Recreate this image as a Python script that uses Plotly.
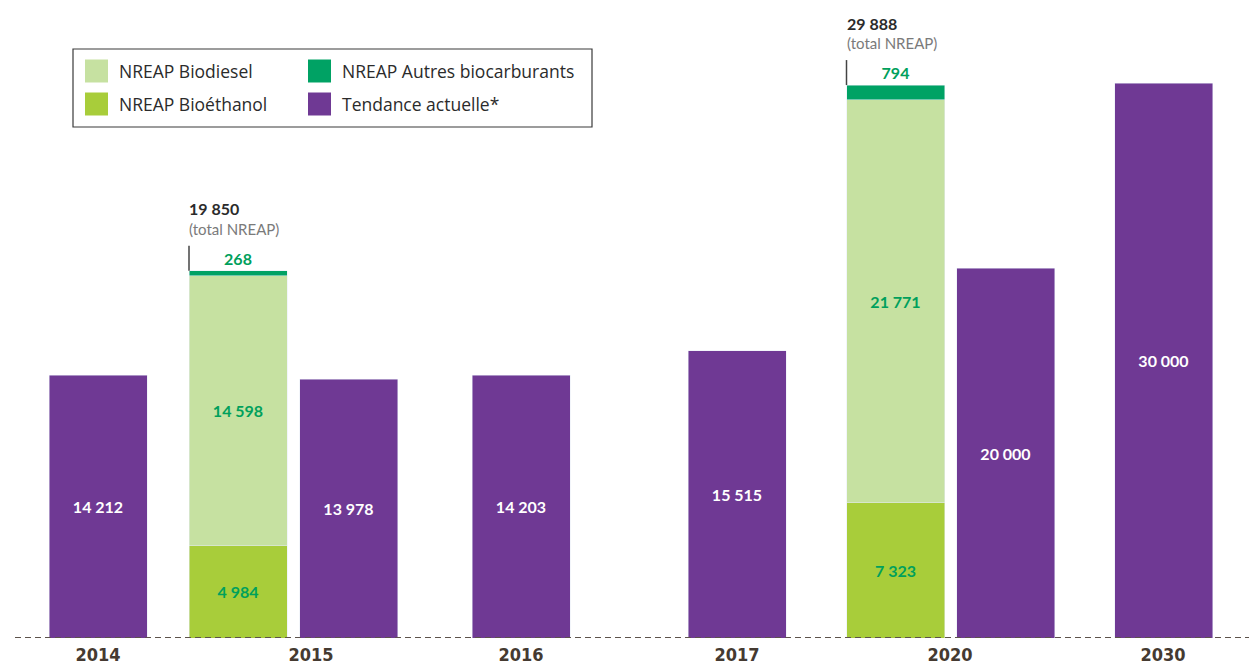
import plotly.graph_objects as go

# ---- data ----
purple_years = ["2014", "2015", "2016", "2017", "2020", "2030"]
tendance = [14212, 13978, 14203, 15515, 20000, 30000]
nreap_years = ["2015", "2020"]
bioethanol = [4984, 7323]
biodiesel = [14598, 21771]
autres = [268, 794]
nreap_total = [19850, 29888]
tick_labels = ["2014", "2015", "2016", "2017", "2020", "2030"]
legend_labels = ["NREAP Biodiesel", "NREAP Autres biocarburants",
                 "NREAP Bioéthanol", "Tendance actuelle*"]

# ---- layout (pixel-like slot positions on a numeric x axis) ----
purple_x = [98, 348.5, 521, 737, 1005.5, 1163.5]
nreap_x = [238, 895.5]
tick_x = [98, 311, 521, 737, 950, 1163]
BAR_W = 98

C_PURPLE = "#6f3994"
C_BIODIESEL = "#c6e1a1"
C_BIOETH = "#a8cd3a"
C_AUTRES = "#00a264"
C_GTEXT = "#00a05c"
C_TICK = "#453a31"
FONT = "Lato"
LEG_FONT = "Open Sans"

W, H = 1249, 665
PLOT_BOTTOM = 638
PX_PER_UNIT = 0.0185
YMAX = PLOT_BOTTOM / PX_PER_UNIT


def fmt(v):
    return f"{v:,}".replace(",", " ")


def py(ypx):
    """pixel row -> paper y (plot area spans rows 0..PLOT_BOTTOM)"""
    return (PLOT_BOTTOM - ypx) / PLOT_BOTTOM


fig = go.Figure()

fig.add_trace(go.Bar(
    x=purple_x, y=tendance, width=BAR_W, marker_color=C_PURPLE,
    text=[fmt(v) for v in tendance], textposition="inside",
    insidetextanchor="middle", textangle=0, constraintext="none",
    textfont=dict(family=FONT, size=16, color="white", weight="bold"),
    showlegend=False, hoverinfo="skip", name=legend_labels[3]))

fig.add_trace(go.Bar(
    x=nreap_x, y=bioethanol, width=BAR_W, marker_color=C_BIOETH,
    text=[fmt(v) for v in bioethanol], textposition="inside",
    insidetextanchor="middle", textangle=0, constraintext="none",
    textfont=dict(family=FONT, size=16, color=C_GTEXT, weight="bold"),
    showlegend=False, hoverinfo="skip", name=legend_labels[2]))

fig.add_trace(go.Bar(
    x=nreap_x, y=biodiesel, width=BAR_W, marker_color=C_BIODIESEL,
    text=[fmt(v) for v in biodiesel], textposition="inside",
    insidetextanchor="middle", textangle=0, constraintext="none",
    textfont=dict(family=FONT, size=16, color=C_GTEXT, weight="bold"),
    showlegend=False, hoverinfo="skip", name=legend_labels[0]))

fig.add_trace(go.Bar(
    x=nreap_x, y=autres, width=BAR_W, marker_color=C_AUTRES,
    text=[fmt(v) for v in autres], textposition="outside",
    textangle=0, constraintext="none", cliponaxis=False,
    textfont=dict(family=FONT, size=16, color=C_GTEXT, weight="bold"),
    showlegend=False, hoverinfo="skip", name=legend_labels[1]))

shapes = []
annotations = []

# total NREAP markers
for xc, tot in zip(nreap_x, nreap_total):
    xl = xc - BAR_W / 2
    shapes.append(dict(type="line", xref="x", yref="y", x0=xl, x1=xl,
                       y0=tot, y1=tot + 25 / PX_PER_UNIT,
                       line=dict(color="#444444", width=1.5)))
    annotations.append(dict(x=xl, y=tot, xref="x", yref="y", text=fmt(tot),
                            showarrow=False, xanchor="left", yanchor="middle",
                            yshift=62, xshift=-2,
                            font=dict(family=FONT, size=16, color="#2b2b2b",
                                      weight="bold")))
    annotations.append(dict(x=xl, y=tot, xref="x", yref="y",
                            text="(total NREAP)",
                            showarrow=False, xanchor="left", yanchor="middle",
                            yshift=42, xshift=-2,
                            font=dict(family=FONT, size=15, color="#7a7a7a")))

# dashed baseline
shapes.append(dict(type="line", xref="paper", yref="y", x0=15 / W, x1=1,
                   y0=0, y1=0,
                   line=dict(color="#5d534b", width=2, dash="6px,4px")))

# manual legend
shapes.append(dict(type="rect", xref="paper", yref="paper",
                   x0=73 / W, x1=592 / W, y0=py(127), y1=py(49),
                   line=dict(color="#3a3a3a", width=1.2),
                   fillcolor="white"))
leg_items = [
    (legend_labels[0], C_BIODIESEL, 85, 71),
    (legend_labels[1], C_AUTRES, 308, 71),
    (legend_labels[2], C_BIOETH, 85, 104),
    (legend_labels[3], C_PURPLE, 308, 104),
]
for lab, col, sx, cy in leg_items:
    shapes.append(dict(type="rect", xref="paper", yref="paper",
                       x0=sx / W, x1=(sx + 23) / W,
                       y0=py(cy + 11.5), y1=py(cy - 11.5),
                       line=dict(width=0), fillcolor=col))
    annotations.append(dict(x=(sx + 32) / W, y=py(cy), xref="paper",
                            yref="paper", text=lab, showarrow=False,
                            xanchor="left", yanchor="middle",
                            font=dict(family=LEG_FONT, size=17.5,
                                      color="#2b2b2b")))

fig.update_layout(
    width=W, height=H,
    barmode="stack",
    margin=dict(l=0, r=0, t=0, b=H - PLOT_BOTTOM, pad=0),
    paper_bgcolor="white", plot_bgcolor="white",
    xaxis=dict(range=[0, W], tickvals=tick_x, ticktext=tick_labels,
               showgrid=False, zeroline=False, showline=False,
               ticks="", ticklabelstandoff=4,
               tickfont=dict(family="DejaVu Sans Condensed", size=18,
                             color=C_TICK, weight="bold")),
    yaxis=dict(range=[0, YMAX], visible=False, showgrid=False,
               zeroline=False),
    shapes=shapes,
    annotations=annotations,
    showlegend=False,
)

fig.write_html(
    "out.html",
    config={"displayModeBar": False},
    post_script="document.body.style.margin='0';"
                "document.body.style.overflow='hidden';",
)
